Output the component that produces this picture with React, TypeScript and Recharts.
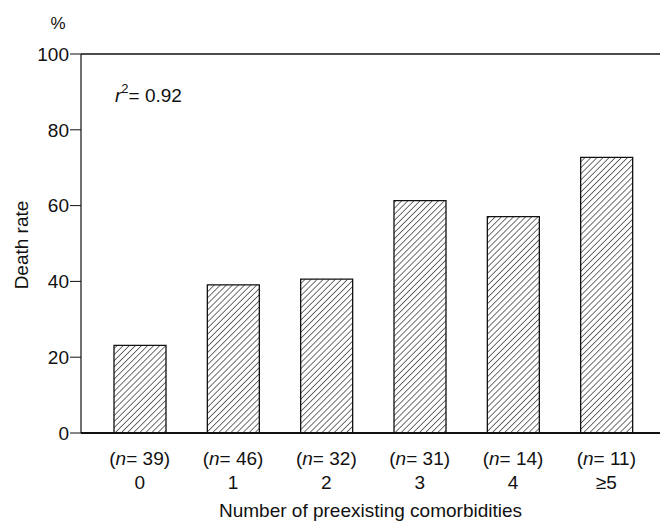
import React from 'react';
import { BarChart, Bar, XAxis, YAxis, ReferenceLine, Label } from 'recharts';

const categories = ['0', '1', '2', '3', '4', '≥5'];
const counts = [39, 46, 32, 31, 14, 11];
const deathRates = [23.1, 39.1, 40.6, 61.3, 57.1, 72.7];
const yTicks = [0, 20, 40, 60, 80, 100];

const data = categories.map((c, i) => ({ name: c, n: counts[i], rate: deathRates[i] }));

const FONT = '"Liberation Sans", Arial, Helvetica, sans-serif';
const FS = 19;

const CategoryTick = ({ x, y, payload, index }: any) => (
  <g transform={`translate(${x},${y})`}>
    <text textAnchor="middle" fontFamily={FONT} fontSize={FS} fill="#111" y={24}>
      (<tspan fontStyle="italic">n</tspan>= {counts[index]})
    </text>
    <text textAnchor="middle" fontFamily={FONT} fontSize={FS} fill="#111" y={48}>
      {payload.value}
    </text>
  </g>
);

export default function App() {
  return (
    <div style={{ position: 'absolute', left: 0, top: 0, width: 660, height: 527, background: '#fff' }}>
      <BarChart width={660} height={527} data={data} margin={{ top: 54, right: 0, bottom: 0, left: 0 }}>
        <defs>
          <pattern id="hatch" width="4.3" height="4.3" patternUnits="userSpaceOnUse" patternTransform="rotate(45)">
            <line x1="0" y1="0" x2="0" y2="4.3" stroke="#222" strokeWidth={1.3} />
          </pattern>
        </defs>
        <XAxis
          dataKey="name"
          tick={<CategoryTick />}
          tickLine={false}
          axisLine={{ stroke: '#111', strokeWidth: 1.8 }}
          padding={{ left: 12, right: 7 }}
          height={94}
          interval={0}
        >
          <Label
            value="Number of preexisting comorbidities"
            position="insideBottom"
            offset={10}
            style={{ fontFamily: FONT, fontSize: FS, fill: '#111' }}
          />
        </XAxis>
        <YAxis
          domain={[0, 100]}
          ticks={yTicks}
          width={81}
          tickSize={11}
          tickMargin={1}
          tick={{ fontFamily: FONT, fontSize: FS, fill: '#111' }}
          tickLine={{ stroke: '#111' }}
          axisLine={{ stroke: '#111', strokeWidth: 1.2 }}
          allowDataOverflow
        >
          <Label
            content={() => (
              <g>
                <text x={58} y={29} textAnchor="middle" fontFamily={FONT} fontSize={17} fill="#111">%</text>
                <text
                  x={21}
                  y={245}
                  transform="rotate(-90 21 245)"
                  textAnchor="middle"
                  dominantBaseline="central"
                  fontFamily={FONT}
                  fontSize={FS}
                  fill="#111"
                >
                  Death rate
                </text>
                <text x={115} y={102} fontFamily={FONT} fontSize={FS} fill="#111">
                  <tspan fontStyle="italic">r</tspan>
                  <tspan dy={-9} fontSize={13}>2</tspan>
                  <tspan dy={9}>= 0.92</tspan>
                </text>
              </g>
            )}
          />
        </YAxis>
        <ReferenceLine y={100} stroke="#111" strokeWidth={1.5} />
        <Bar
          dataKey="rate"
          barSize={52}
          fill="url(#hatch)"
          stroke="#111"
          strokeWidth={1.3}
          isAnimationActive={false}
        />
      </BarChart>
    </div>
  );
}
